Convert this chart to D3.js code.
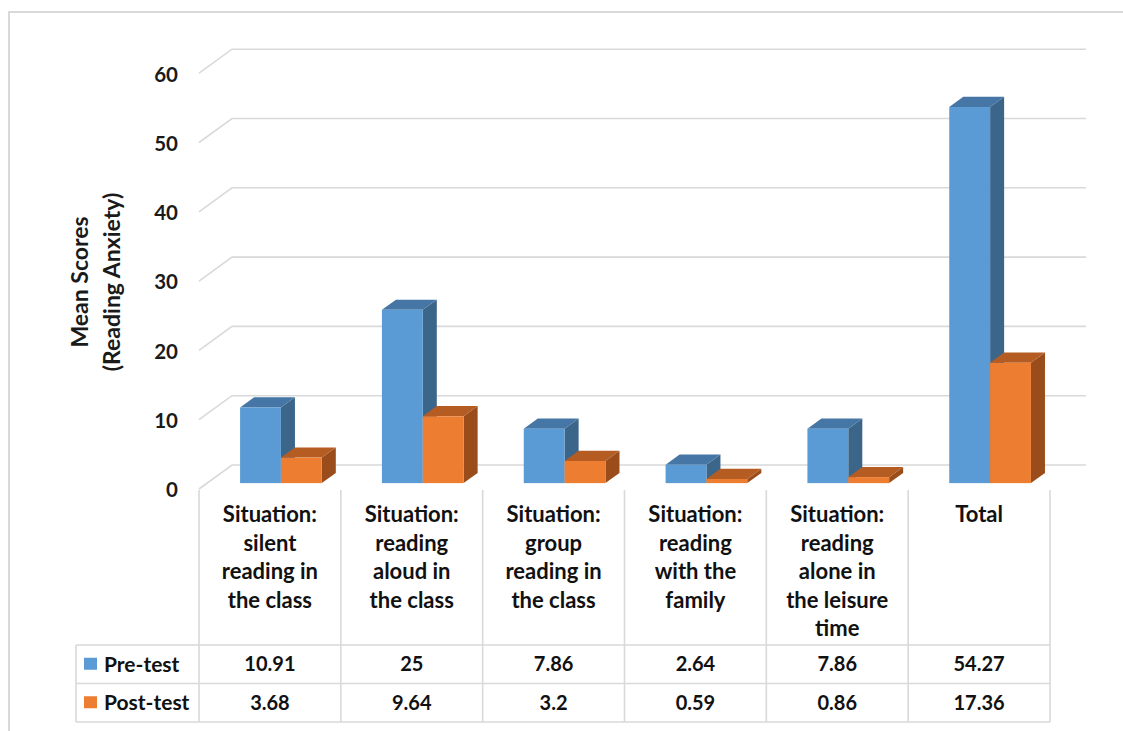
<!DOCTYPE html>
<html>
<head>
<meta charset="utf-8">
<script src="https://cdn.jsdelivr.net/npm/d3@7"></script>
<style>
  html, body { margin: 0; padding: 0; background: #fff; }
  svg { display: block; font-family: Lato, "Noto Sans", sans-serif; font-weight: bold; }
</style>
</head>
<body>
<svg id="chart" width="1123" height="731"></svg>
<script>
// Category labels, one array of lines per column of the data table
const categoryLines = [
  ["Situation:", "silent", "reading in", "the class"],
  ["Situation:", "reading", "aloud in", "the class"],
  ["Situation:", "group", "reading in", "the class"],
  ["Situation:", "reading", "with the", "family"],
  ["Situation:", "reading", "alone in", "the leisure", "time"],
  ["Total"]
];
const seriesNames = ["Pre-test", "Post-test"];
const preTest  = [10.91, 25, 7.86, 2.64, 7.86, 54.27];
const postTest = [3.68, 9.64, 3.2, 0.59, 0.86, 17.36];
const yTicks = [0, 10, 20, 30, 40, 50, 60];
const yTitle = ["Mean Scores", "(Reading Anxiety)"];

const svg = d3.select("#chart");
const grid = "#d9d9d9";

// Palette: front, side and top faces per series
const faces = [
  { front: "#5b9bd5", side: "#3b6589", top: "#4676a5" },
  { front: "#ed7d31", side: "#9a4d1b", top: "#b55c22" }
];

// Outer chart border
svg.append("rect")
  .attr("x", 9).attr("y", 12).attr("width", 1140).attr("height", 740)
  .attr("fill", "none").attr("stroke", grid).attr("stroke-width", 2);

// Scales on the front plane; depth adds an oblique offset
const x = d3.scaleBand().domain(d3.range(categoryLines.length)).range([199, 1050]);
const y = d3.scaleLinear().domain([0, 60]).range([489, 73.2]);
const depth = { dx: 33, dy: -24 };
const backRight = 1086;

// Side wall diagonals and back wall gridlines
const gl = svg.append("g").attr("fill", "none").attr("stroke", grid).attr("stroke-width", 1.6);
yTicks.forEach(v => {
  const x0 = x.range()[0];
  gl.append("polyline")
    .attr("points", [
      [x0, y(v)],
      [x0 + depth.dx, y(v) + depth.dy],
      [backRight, y(v) + depth.dy]
    ].map(p => p.join(",")).join(" "));
});

// Tick labels
svg.append("g").selectAll("text").data(yTicks).join("text")
  .attr("x", 178).attr("y", d => y(d) + 1)
  .attr("dy", "0.36em").attr("text-anchor", "end")
  .attr("font-size", 20.5).attr("fill", "#1a1a1a")
  .text(d => d);

// Axis title, two rotated lines
const title = svg.append("text")
  .attr("transform", "translate(96,282) rotate(-90)")
  .attr("text-anchor", "middle").attr("font-size", 23).attr("fill", "#1a1a1a");
yTitle.forEach((t, i) => {
  title.append("tspan").attr("x", 0).attr("y", i === 0 ? -8 : 24).text(t);
});

// 3D bars: front face sits a little behind the front plane
const bw = x.bandwidth();
const barW = bw * 0.288;
const zFront = { dx: depth.dx * 0.245, dy: depth.dy * 0.245 };
const zBack = { dx: depth.dx * 0.67, dy: depth.dy * 0.67 };
const ddx = zBack.dx - zFront.dx, ddy = zBack.dy - zFront.dy;
const bars = svg.append("g");
const series = [preTest, postTest];
const poly = pts => pts.map(p => p.join(",")).join(" ");

categoryLines.forEach((_, i) => {
  series.forEach((vals, s) => {
    const v = vals[i];
    const xl = x(i) + depth.dx + zFront.dx + s * barW;
    const xr = xl + barW;
    const yb = y(0) + zFront.dy;
    const yt = y(v) + zFront.dy;
    const f = faces[s];
    bars.append("polygon").attr("fill", f.side)
      .attr("points", poly([[xr, yt], [xr + ddx, yt + ddy], [xr + ddx, yb + ddy], [xr, yb]]));
    bars.append("polygon").attr("fill", f.top)
      .attr("points", poly([[xl, yt], [xl + ddx, yt + ddy], [xr + ddx, yt + ddy], [xr, yt]]));
    bars.append("rect").attr("fill", f.front)
      .attr("x", xl).attr("y", yt).attr("width", barW).attr("height", yb - yt);
  });
});

// Data table grid
const rowTop = 645, rowH = 38.5;
const tableLeft = 76;
const tbl = svg.append("g").attr("stroke", grid).attr("stroke-width", 1.6).attr("fill", "none");
d3.range(categoryLines.length + 1).forEach(k => {
  const xx = x.range()[0] + k * bw;
  tbl.append("line").attr("x1", xx).attr("x2", xx).attr("y1", 490).attr("y2", rowTop + 2 * rowH);
});
tbl.append("line").attr("x1", tableLeft).attr("x2", tableLeft).attr("y1", rowTop).attr("y2", rowTop + 2 * rowH);
[0, 1, 2].forEach(r => {
  tbl.append("line").attr("x1", tableLeft).attr("x2", x.range()[1])
    .attr("y1", rowTop + r * rowH).attr("y2", rowTop + r * rowH);
});

// Category header text
const hdr = svg.append("g").attr("font-size", 22).attr("fill", "#111").attr("text-anchor", "middle");
categoryLines.forEach((lines, i) => {
  const t = hdr.append("text");
  lines.forEach((ln, j) => {
    t.append("tspan").attr("x", x(i) + bw / 2).attr("y", 522 + j * 28.5).text(ln);
  });
});

// Legend keys and values per row
series.forEach((vals, s) => {
  const cy = rowTop + s * rowH + rowH / 2;
  svg.append("rect").attr("x", 84).attr("y", cy - 6.5).attr("width", 13).attr("height", 12)
    .attr("fill", faces[s].front);
  svg.append("text").attr("x", 104).attr("y", cy).attr("dy", "0.36em")
    .attr("font-size", 21).attr("fill", "#111").text(seriesNames[s]);
  svg.append("g").selectAll("text").data(vals).join("text")
    .attr("x", (d, i) => x(i) + bw / 2).attr("y", cy).attr("dy", "0.36em")
    .attr("text-anchor", "middle").attr("font-size", 20).attr("fill", "#111")
    .text(d => String(d));
});
</script>
</body>
</html>
